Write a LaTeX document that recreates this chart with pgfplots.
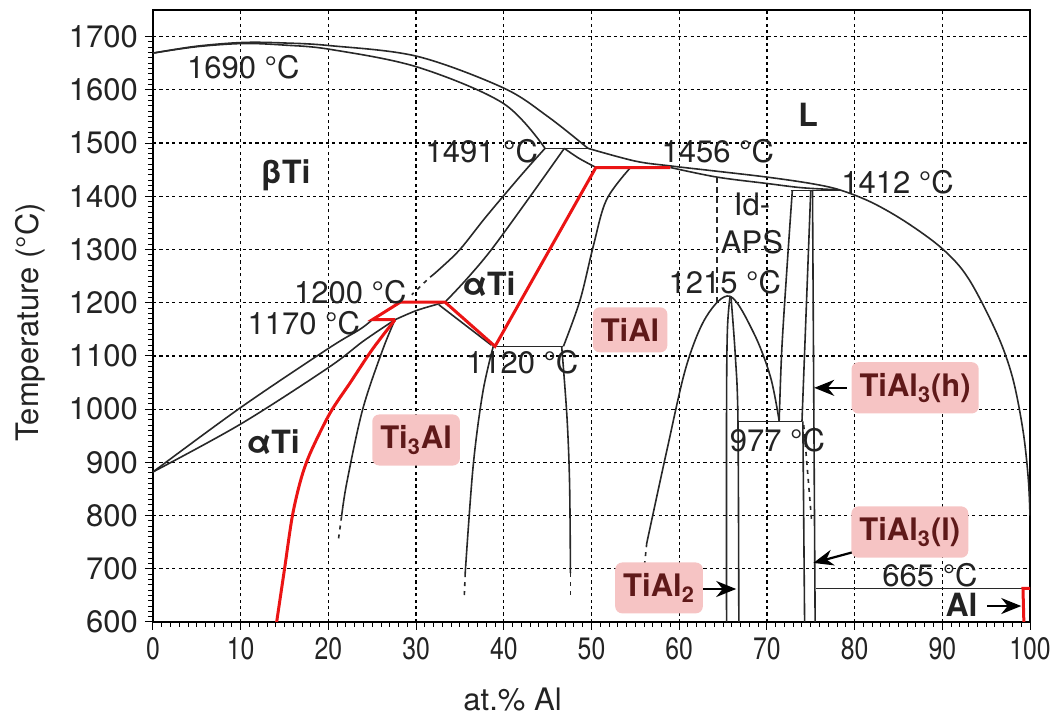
\documentclass[border=0pt]{standalone}
\usepackage{fontspec}
\setmainfont{TeX Gyre Heros}
\usepackage{graphicx}
\usepackage{pgfplots}
\pgfplotsset{compat=1.18}
\usetikzlibrary{arrows.meta}
\definecolor{crv}{RGB}{40,40,40}
\definecolor{rl}{RGB}{235,20,20}
\definecolor{pk}{RGB}{246,196,196}
\definecolor{pkt}{RGB}{95,25,25}
\definecolor{txt}{RGB}{35,35,35}
\pgfplotsset{
  blk/.style={color=crv, line width=0.8pt, no marks},
  bsm/.style={blk, smooth, tension=0.55},
  bdash/.style={blk, dash pattern=on 2pt off 2.5pt},
  red/.style={color=rl, line width=1.5pt, no marks},
  arr/.style={black, line width=1.1pt, no marks, -{Stealth[length=10pt,width=8pt]}},
}
\begin{document}
\begin{tikzpicture}[
  lbl/.style={font=\fontsize{15.5}{18}\selectfont, text=txt, inner sep=0pt},
  blbl/.style={font=\fontsize{16}{18}\selectfont\bfseries, text=txt, inner sep=0pt},
  pbox/.style={font=\fontsize{15.5}{18}\selectfont\bfseries, text=pkt, fill=pk, rounded corners=3.5pt, inner xsep=4pt, inner ysep=5.5pt},
]
\begin{axis}[
  scale only axis, width=438.5pt, height=306pt,
  xmin=0, xmax=100, ymin=600, ymax=1750,
  xtick={0,10,...,100}, ytick={600,700,...,1700},
  minor x tick num=9, minor y tick num=9,
  tick pos=left, tick align=outside,
  major tick length=4pt, minor tick length=2.5pt,
  every tick/.style={black, line width=0.5pt},
  grid=major,
  grid style={black, line width=0.6pt, dash pattern=on 1.6pt off 1.6pt},
  axis line style={line width=1.2pt},
  /pgf/number format/assume math mode=true,
  /pgf/number format/1000 sep={},
  tick label style={font=\fontsize{15.5}{18}\selectfont, text=txt},
  xticklabel={\scalebox{0.8}[1]{\pgfmathprintnumber{\tick}}},
  xlabel={at.\% Al},
  ylabel={Temperature (°C)},
  label style={font=\fontsize{15.5}{18}\selectfont, text=txt},
  xlabel style={at={([yshift=-39pt]axis description cs:0.41,0)}, anchor=center},
  ylabel style={at={([xshift=-61.5pt]axis description cs:0,0.49)}, anchor=center},
]
% Ti-rich liquidus and solidus
\addplot[bsm] coordinates {(0,1669)(5,1682)(10.3,1689)(15,1688)(20.2,1683)(30.1,1663)(39.9,1604)(45,1550)(49.6,1490)};
\addplot[bsm] coordinates {(0,1669)(5,1681)(10.3,1687)(15,1684)(20.2,1676)(30.1,1643)(39.9,1575)(44.7,1490)};
\addplot[blk] coordinates {(44.7,1490)(49.6,1490)};
% liquidus to Al side
\addplot[bsm] coordinates {(49.6,1490)(55,1466)(59,1457)(64.3,1447)(70,1436)(75,1424)(78.3,1412)(82,1388)(86,1350)(90.1,1300)(93,1245)(96.2,1143)(98,1060)(99.2,960)(99.8,870)(100,800)};
\addplot[bsm] coordinates {(59,1454)(64.3,1436)(70,1424)(74,1416)(78.3,1412)};
\addplot[blk] coordinates {(72.7,1411)(78.3,1411)};
% alpha / beta boundaries
\addplot[bsm] coordinates {(46.9,1490)(48.5,1472)(50.4,1455)};
\addplot[bsm] coordinates {(44.7,1490)(42,1440)(38,1362)(35,1300)(32.6,1262)(31.6,1248)};
\addplot[bdash] coordinates {(31.2,1242)(29.5,1215)};
\addplot[bsm] coordinates {(46.9,1490)(42.8,1395)(38.6,1300)(35.8,1245)(33.3,1201)};
\addplot[bsm] coordinates {(27.6,1168)(30,1185)(32.4,1197)(33.3,1201)};
\addplot[blk] coordinates {(32.6,1196)(38.6,1120)};
\addplot[blk] coordinates {(38.8,1118)(46.8,1118)};
\addplot[bsm] coordinates {(38.8,1118)(37.6,1031)(36.5,892)(35.6,692)};
\addplot[bdash] coordinates {(35.6,692)(35.5,650)};
\addplot[bsm] coordinates {(54.4,1453)(51.7,1393)(50.2,1306)(48.7,1205)(46.8,1118)};
\addplot[bsm] coordinates {(46.6,1118)(47.2,986)(47.5,861)(47.6,692)};
\addplot[bdash] coordinates {(47.6,692)(47.6,650)};
\addplot[bsm] coordinates {(27.6,1168)(26.2,1112)(23.9,999)(22.1,862)(21.5,798)};
\addplot[bdash] coordinates {(21.5,798)(21.1,750)};
\addplot[bsm] coordinates {(0,882)(10,1003)(20,1114)(23.6,1150)(25,1168)};
\addplot[bsm] coordinates {(0,882)(10,972)(20,1078)(24,1128)(27.6,1168)};
% TiAl2 dome and phases
\addplot[bsm] coordinates {(56.3,748)(58.6,923)(60.8,1080)(63.1,1174)(65.8,1212)(68.5,1143)(70.4,1061)(71.4,978)};
\addplot[bdash] coordinates {(56.3,748)(56.0,700)};
\addplot[bsm] coordinates {(65.8,1212)(65.5,1150)(65.4,1000)(65.4,600)};
\addplot[bsm] coordinates {(65.9,1212)(66.4,1100)(66.7,977)(66.8,600)};
\addplot[blk] coordinates {(66.7,977)(74.0,977)};
\addplot[blk, dash pattern=on 3pt off 2pt] coordinates {(64.3,1436)(64.3,1195)};
\addplot[bsm] coordinates {(72.9,1411)(72.3,1268)(71.7,1112)(71.4,978)};
\addplot[blk] coordinates {(75.0,1411)(74.0,977)};
\addplot[blk] coordinates {(74.1,977)(74.3,600)};
\addplot[blk] coordinates {(75.2,1411)(75.5,600)};
\addplot[bdash] coordinates {(74.2,970)(75.1,790)};
\addplot[blk] coordinates {(75.6,663)(100,663)};
% red highlighted path
\addplot[red, smooth, tension=0.5] coordinates {(14.1,600)(15.0,700)(15.9,800)(16.9,870)(18.0,920)(20.2,993)(22.5,1050)(25.0,1112)(27.6,1168)};
\addplot[red] coordinates {(27.6,1168)(25.0,1168)(28.2,1201)(33.3,1201)(39.0,1118)(50.5,1454)(59.0,1454)};
\addplot[red] coordinates {(99.3,600)(99.2,663)(100,663)};
% arrows
\addplot[arr] coordinates {(79.1,1040)(75.4,1040)};
\addplot[arr] coordinates {(80.0,732)(75.3,711)};
\addplot[arr] coordinates {(62.0,662)(66.5,662)};
\addplot[arr] coordinates {(95.1,630)(99.0,630)};
% labels
\node[lbl] at (axis cs:10.3,1642) {1690 °C};
\node[blbl] at (axis cs:15.1,1440) {βTi};
\node[lbl] at (axis cs:37.5,1484) {1491 °C};
\node[blbl] at (axis cs:74.7,1553) {L};
\node[lbl] at (axis cs:64.4,1484) {1456 °C};
\node[lbl] at (axis cs:84.9,1427) {1412 °C};
\node[lbl] at (axis cs:68.3,1384) {Id-};
\node[lbl] at (axis cs:68.3,1313) {APS};
\node[lbl] at (axis cs:65.2,1239) {1215 °C};
\node[blbl] at (axis cs:38.3,1234) {αTi};
\node[lbl] at (axis cs:22.5,1220) {1200 °C};
\node[lbl] at (axis cs:17.2,1162) {1170 °C};
\node[pbox] at (axis cs:54.4,1149) {TiAl};
\node[lbl] at (axis cs:42.1,1089) {1120 °C};
\node[pbox] at (axis cs:86.9,1040) {TiAl\textsubscript{3}(h)};
\node[lbl] at (axis cs:71.2,942) {977 °C};
\node[blbl] at (axis cs:13.7,937) {αTi};
\node[pbox] at (axis cs:30.0,942) {Ti\textsubscript{3}Al};
\node[pbox] at (axis cs:86.3,769) {TiAl\textsubscript{3}(l)};
\node[lbl] at (axis cs:88.6,688) {665 °C};
\node[pbox] at (axis cs:57.7,664) {TiAl\textsubscript{2}};
\node[blbl] at (axis cs:92.2,632) {Al};
\end{axis}
\pgfresetboundingbox
\path[use as bounding box] ([shift={(-76.5pt,-50pt)}]current axis.south west) rectangle ([shift={(16pt,5pt)}]current axis.north east);
\end{tikzpicture}
\end{document}
